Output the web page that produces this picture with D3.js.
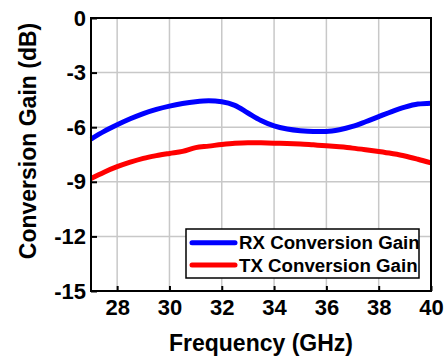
<!DOCTYPE html>
<html>
<head>
<meta charset="utf-8">
<script src="https://cdn.jsdelivr.net/npm/d3@7"></script>
<style>
  body { margin: 0; background: #fff; }
  text { font-family: "Liberation Sans", Arial, sans-serif; font-weight: bold; }
</style>
</head>
<body>
<div id="viz"></div>
<script>
// data
var freq = [27, 27.5, 28, 28.5, 29, 29.5, 30, 30.5, 31, 31.5, 32, 32.5, 33, 33.5, 34,
	34.5, 35, 35.5, 36, 36.5, 37, 37.5, 38, 38.5, 39, 39.5, 40];
var rxGain = [-6.65, -6.23, -5.87, -5.54, -5.25, -5.02, -4.84, -4.70, -4.60, -4.55, -4.60,
	-4.80, -5.22, -5.63, -5.93, -6.10, -6.19, -6.23, -6.23, -6.14, -5.96, -5.70, -5.42,
	-5.14, -4.90, -4.73, -4.68];
var txGain = [-8.82, -8.47, -8.17, -7.92, -7.71, -7.56, -7.44, -7.33, -7.12, -7.04, -6.95,
	-6.88, -6.85, -6.86, -6.88, -6.89, -6.92, -6.97, -7.02, -7.08, -7.15, -7.24, -7.34,
	-7.45, -7.58, -7.76, -7.96];
var xTicks = [28, 30, 32, 34, 36, 38, 40];
var yTicks = [0, -3, -6, -9, -12, -15];
var seriesNames = ["RX Conversion Gain", "TX Conversion Gain"];
var seriesColors = ["#0000ff", "#ff0000"];

var W = 446, H = 360;
var mLeft = 91, mRight = 431, mTop = 18, mBottom = 291;

var x = d3.scaleLinear().domain([27, 40]).range([mLeft, mRight]);
var y = d3.scaleLinear().domain([-15, 0]).range([mBottom, mTop]);

var svg = d3.select('#viz')
	.append('svg')
		.attr('width', W)
		.attr('height', H);

// grid
svg.append('g')
	.selectAll('line')
	.data(xTicks.filter(function(d) { return d < 40; }))
	.enter().append('line')
		.attr('x1', function(d) { return x(d); })
		.attr('x2', function(d) { return x(d); })
		.attr('y1', mTop)
		.attr('y2', mBottom)
		.style('stroke', '#c8c8c8')
		.style('stroke-width', 1.5);
svg.append('g')
	.selectAll('line')
	.data(yTicks.filter(function(d) { return d > -15 && d < 0; }))
	.enter().append('line')
		.attr('x1', mLeft)
		.attr('x2', mRight)
		.attr('y1', function(d) { return y(d); })
		.attr('y2', function(d) { return y(d); })
		.style('stroke', '#c8c8c8')
		.style('stroke-width', 1.5);

// curves
var series = [rxGain, txGain];
var line = d3.line()
	.x(function(d, i) { return x(freq[i]); })
	.y(function(d) { return y(d); })
	.curve(d3.curveMonotoneX);

svg.append('g')
	.selectAll('path')
	.data(series)
	.enter().append('path')
		.attr('d', line)
		.style('fill', 'none')
		.style('stroke', function(d, i) { return seriesColors[i]; })
		.style('stroke-width', 5)
		.style('stroke-linejoin', 'round');

// frame
svg.append('rect')
	.attr('x', mLeft)
	.attr('y', mTop)
	.attr('width', mRight - mLeft)
	.attr('height', mBottom - mTop)
	.style('fill', 'none')
	.style('stroke', '#000')
	.style('stroke-width', 2);

// axes
var xAxis = svg.append('g')
	.attr('transform', 'translate(0,' + mBottom + ')')
	.call(d3.axisBottom(x).tickValues(xTicks).tickSize(-5).tickPadding(8).tickSizeOuter(0));
var yAxis = svg.append('g')
	.attr('transform', 'translate(' + mLeft + ',0)')
	.call(d3.axisLeft(y).tickValues(yTicks).tickSize(-6).tickPadding(5).tickSizeOuter(0));

[xAxis, yAxis].forEach(function(a) {
	a.select('.domain').remove();
	a.selectAll('.tick line').style('stroke', '#000').style('stroke-width', 2);
	a.selectAll('.tick text')
		.style('font-size', '22px')
		.style('font-family', '"Liberation Sans", Arial, sans-serif')
		.style('fill', '#000');
});
yAxis.selectAll('.tick text').text(function(d) { return d === 0 ? '0' : '-' + Math.abs(d); });

// axis titles
svg.append('text')
	.attr('x', (mLeft + mRight) / 2)
	.attr('y', 351)
	.attr('text-anchor', 'middle')
	.style('font-size', '23px')
	.text('Frequency (GHz)');

svg.append('text')
	.attr('transform', 'translate(35.5,141) rotate(-90)')
	.attr('text-anchor', 'middle')
	.style('font-size', '23px')
	.text('Conversion Gain (dB)');

// legend
var legend = svg.append('g');
legend.append('rect')
	.attr('x', 186)
	.attr('y', 229)
	.attr('width', 233)
	.attr('height', 49)
	.style('fill', '#fff')
	.style('stroke', '#000')
	.style('stroke-width', 1.5);

var items = legend.selectAll('g.item')
	.data(seriesNames)
	.enter().append('g')
		.attr('class', 'item')
		.attr('transform', function(d, i) { return 'translate(0,' + (242.7 + i * 22.3) + ')'; });
items.append('line')
	.attr('x1', 192)
	.attr('x2', 235)
	.style('stroke', function(d, i) { return seriesColors[i]; })
	.style('stroke-width', 5)
	.style('stroke-linecap', 'round');
items.append('text')
	.attr('x', 239)
	.attr('dy', '0.36em')
	.style('font-size', '18.7px')
	.text(function(d) { return d; });
</script>
</body>
</html>
